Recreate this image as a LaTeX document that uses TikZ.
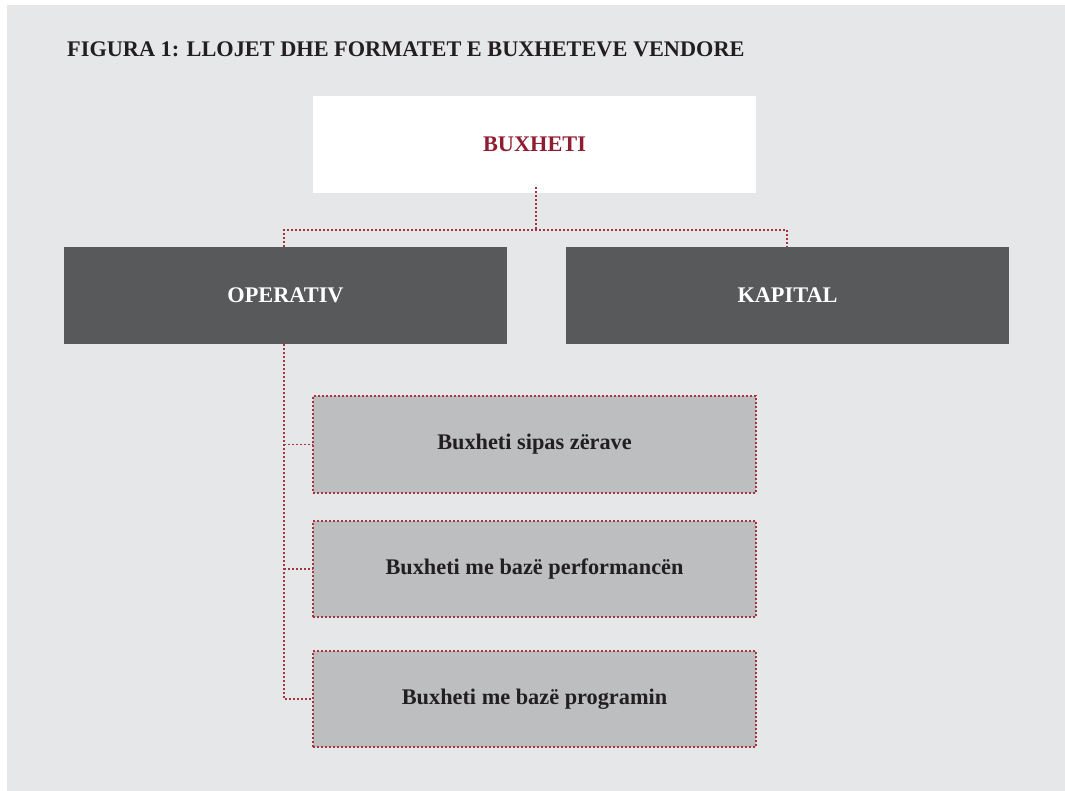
\documentclass[tikz,border=0pt]{standalone}
\usepackage{fontspec}
\setmainfont{Liberation Serif}
\definecolor{panel}{HTML}{E6E7E8}
\definecolor{darkbox}{HTML}{58595B}
\definecolor{lightbox}{HTML}{BCBEC0}
\definecolor{wine}{HTML}{8F1D32}
\definecolor{dotred}{HTML}{A8323F}
\definecolor{ink}{HTML}{231F20}
\begin{document}
\begin{tikzpicture}[x=1pt,y=-1pt,
  label font/.style={font=\fontsize{22.3}{26}\selectfont\bfseries},
  box/.style={label font,minimum width=443pt,minimum height=97pt,inner sep=0pt},
  topbox/.style={box,fill=white,text=wine},
  mainbox/.style={box,fill=darkbox,text=white},
  dots/.style={draw=dotred,line width=1.6pt,dash pattern=on 2pt off 2pt},
  subbox/.style={box,minimum height=96pt,fill=lightbox,text=ink,dots},
  conn/.style={dots}]
  % page and panel
  \useasboundingbox (0,0) rectangle (1065,791);
  \fill[panel] (7,5) rectangle (1065,791);
  % title
  \node[anchor=base west,inner sep=0pt,text=ink,label font] (title) at (67,57)
    {FIGURA 1: LLOJET DHE FORMATET E BUXHETEVE VENDORE};
  % boxes
  \node[topbox] (buxheti) at (534.5,144.5) {BUXHETI};
  \node[mainbox] (operativ) at (285.5,295.5) {OPERATIV};
  \node[mainbox] (kapital) at (787.5,295.5) {KAPITAL};
  \node[subbox,minimum height=97pt] (zerat) at (534.5,444.5) {Buxheti sipas zërave};
  \node[subbox] (perf) at (534.5,569) {Buxheti me bazë performancën};
  \node[subbox] (prog) at (534.5,699) {Buxheti me bazë programin};
  % connectors
  \coordinate (split) at (536,230);
  \draw[conn] ([xshift=1.5pt,yshift=6pt]buxheti.south) -- (split);
  \draw[conn] ([xshift=-1.5pt]operativ.north) -- ([xshift=-1.5pt]operativ.north |- split)
    -- ([xshift=-0.5pt]kapital.north |- split) -- ([xshift=-0.5pt]kapital.north);
  \draw[conn] ([xshift=-1.5pt]operativ.south) |- (prog.west);
  \draw[conn] ([xshift=-1.5pt]operativ.south |- zerat.west) -- (zerat.west);
  \draw[conn] ([xshift=-1.5pt]operativ.south |- perf.west) -- (perf.west);
\end{tikzpicture}
\end{document}
